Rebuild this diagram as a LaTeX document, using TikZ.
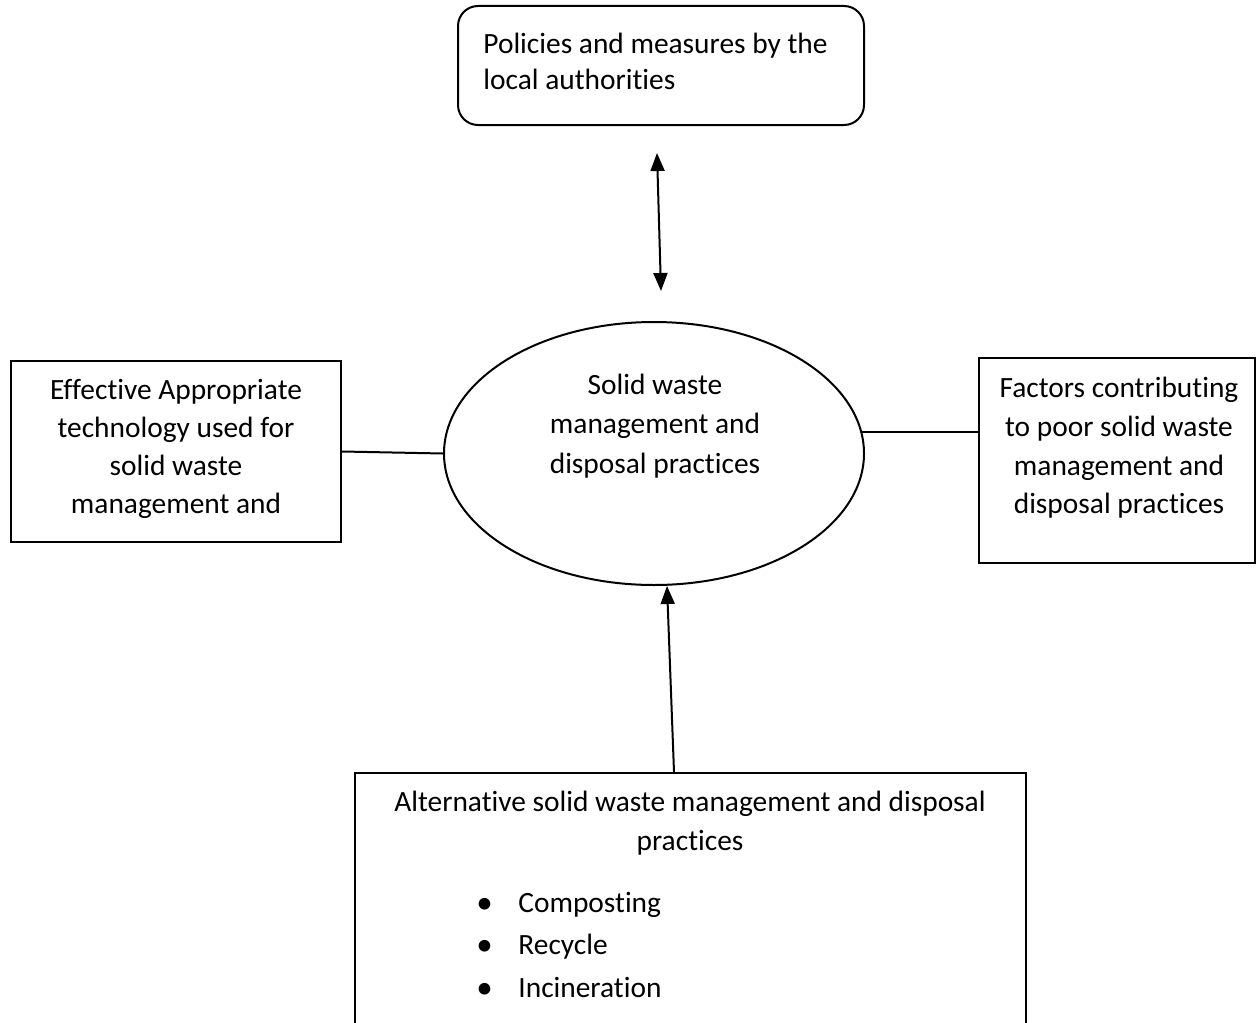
\documentclass[tikz,border=0pt]{standalone}
\usepackage{fontspec}
\setmainfont[Ligatures=NoCommon]{Carlito}
\usetikzlibrary{arrows.meta,shapes.geometric}
\newcommand{\bigbul}{\makebox[20.5pt][l]{\hspace{-0.5pt}\raisebox{-0.6pt}{\fontsize{16.5}{16.5}\selectfont •}}}
\begin{document}
\begin{tikzpicture}[x=0.5pt,y=-0.5pt,
  every node/.style={font=\fontsize{14.7}{19.8}\selectfont},
  ln/.style={line width=1pt},
  box/.style={draw,line width=1pt,inner sep=0pt},
  txt/.style={inner sep=0pt,align=center},
  arr/.style={line width=1pt,-{Triangle[width=7pt,length=9pt]}},
  darr/.style={line width=1pt,{Triangle[width=7pt,length=9pt]}-{Triangle[width=7pt,length=9pt]}}]
\useasboundingbox (0,0) rectangle (1256,1022);
\clip (0,0) rectangle (1256,1022);
\node[box,rounded corners=10pt,minimum width=203pt,minimum height=59.5pt] (top) at (661,65.5) {};
\node[txt,align=left,anchor=west,font=\fontsize{14.7}{18}\selectfont] (toptxt) at (483,61) {Policies and measures by the\\local authorities};
\node[draw,ellipse,line width=1pt,inner sep=0pt,minimum width=210pt,minimum height=131.5pt] (ell) at (654,453.5) {};
\node[txt] (elltxt) at (655,426) {Solid waste\\management and\\disposal practices};
\node[box,minimum width=165pt,minimum height=90.5pt] (left) at (176,451.5) {};
\node[txt,font=\fontsize{14.7}{19}\selectfont] (lefttxt) at (176,449) {Effective Appropriate\\technology used for\\solid waste\\management and};
\node[box,minimum width=138pt,minimum height=102.5pt] (right) at (1117,460.5) {};
\node[txt,font=\fontsize{14.7}{19.3}\selectfont] (righttxt) at (1119,448) {Factors contributing\\to poor solid waste\\management and\\disposal practices};
\node[box,minimum width=335.5pt,minimum height=133.5pt] (bot) at (690.5,906.5) {};
\node[txt] (bottitle) at (690,823) {Alternative solid waste management and disposal\\practices};
\node[txt,align=left,anchor=west,font=\fontsize{14.7}{21.25}\selectfont] (list) at (477,945)
  {\bigbul Composting\\\bigbul Recycle\\\bigbul Incineration};
\coordinate (d1) at (657,153);
\coordinate (d2) at (661,291);
\draw[darr] (d1) -- (d2);
\draw[ln] (left.east) -- (ell.west);
\draw[ln] (ell.6.6) -- (ell.6.6 -| right.west);
\draw[arr] ([xshift=-8.25pt]bot.north) -- ([xshift=6.5pt]ell.south);
\end{tikzpicture}
\end{document}
